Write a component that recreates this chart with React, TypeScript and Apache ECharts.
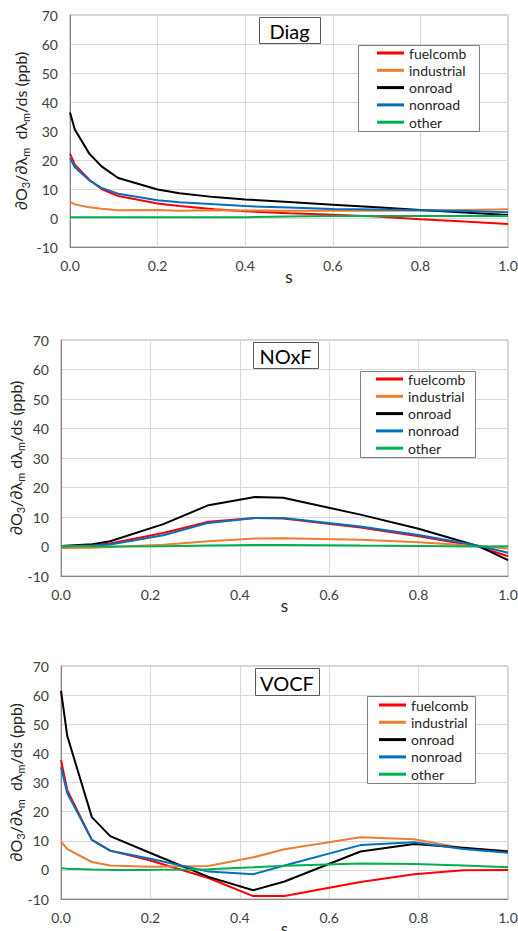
import React, { useEffect, useRef } from "react";
import * as echarts from "echarts";

// ---------- data ----------
const seriesNames = ["fuelcomb", "industrial", "onroad", "nonroad", "other"];
const seriesColors = ["#ff0000", "#ed7d31", "#000000", "#0070c0", "#00b050"];
const panelTitles = ["Diag", "NOxF", "VOCF"];

const diagS = [0, 0.011, 0.044, 0.072, 0.11, 0.2, 0.25, 0.33, 0.4, 0.5, 0.6, 0.7, 0.8, 0.9, 1.0];
const diagFuelcomb = [22.2, 18.4, 13.2, 10.0, 7.6, 5.0, 4.1, 3.0, 2.3, 1.6, 1.1, 0.5, -0.4, -1.2, -2.1];
const diagIndustrial = [5.6, 4.7, 3.7, 3.2, 2.7, 2.8, 2.5, 2.7, 2.6, 2.5, 2.5, 2.5, 2.6, 2.8, 3.0];
const diagOnroad = [36.4, 30.5, 22.2, 17.8, 13.8, 9.8, 8.5, 7.2, 6.4, 5.5, 4.6, 3.7, 2.8, 1.9, 1.0];
const diagNonroad = [20.7, 17.5, 13.0, 10.4, 8.4, 6.1, 5.4, 4.7, 4.1, 3.6, 3.1, 2.9, 2.7, 2.4, 2.0];
const diagOther = [0.3, 0.3, 0.3, 0.3, 0.3, 0.3, 0.3, 0.3, 0.3, 0.5, 0.7, 0.7, 0.7, 0.7, 0.7];

const noxS = [0, 0.07, 0.11, 0.229, 0.33, 0.434, 0.497, 0.67, 0.8, 0.934, 1.0];
const noxFuelcomb = [0, 0.3, 1.0, 4.6, 8.4, 9.7, 9.5, 6.4, 3.5, 0.0, -3.3];
const noxIndustrial = [-0.5, -0.4, -0.2, 0.6, 1.8, 2.7, 2.8, 2.3, 1.4, 0.2, -0.7];
const noxOnroad = [0.2, 0.8, 1.8, 7.6, 14.0, 16.8, 16.5, 10.8, 6.0, 0.1, -4.6];
const noxNonroad = [0, 0.3, 0.7, 3.8, 8.0, 9.7, 9.7, 6.8, 3.9, 0.3, -2.1];
const noxOther = [0.2, 0.1, 0.0, 0.1, 0.3, 0.5, 0.5, 0.3, 0.2, 0.0, 0.1];

const vocS = [0, 0.014, 0.069, 0.11, 0.2, 0.33, 0.43, 0.5, 0.67, 0.79, 0.9, 1.0];
const vocFuelcomb = [37.7, 27.4, 10.3, 6.6, 3.2, -2.8, -9.0, -9.0, -4.2, -1.5, -0.1, 0.0];
const vocIndustrial = [9.7, 7.1, 2.7, 1.5, 1.1, 1.3, 4.3, 7.1, 11.2, 10.5, 7.4, 6.5];
const vocOnroad = [61.5, 46.0, 18.1, 11.6, 5.8, -2.4, -7.0, -4.0, 6.3, 8.9, 7.6, 6.3];
const vocNonroad = [35.2, 26.3, 10.3, 6.6, 3.8, -0.6, -1.5, 1.5, 8.5, 9.5, 7.2, 5.9];
const vocOther = [0.6, 0.4, 0.1, 0.0, 0.0, 0.2, 0.9, 1.4, 2.2, 2.0, 1.5, 0.9];

const xTicks = { min: 0, max: 1, interval: 0.2 };
const yTicks = { min: -10, max: 70, interval: 10 };

const panels = [
  { s: diagS, values: [diagFuelcomb, diagIndustrial, diagOnroad, diagNonroad, diagOther] },
  { s: noxS, values: [noxFuelcomb, noxIndustrial, noxOnroad, noxNonroad, noxOther] },
  { s: vocS, values: [vocFuelcomb, vocIndustrial, vocOnroad, vocNonroad, vocOther] },
];

// ---------- layout ----------
const FONT = "Lato, 'DejaVu Sans', sans-serif";
const grids = [
  { left: 70, top: 15, width: 438, height: 232, nameGapY: 39, yName: "∂O{s|3}/∂λ{s|m}  dλ{s|m}/ds (ppb)" },
  { left: 61, top: 340, width: 447, height: 236, nameGapY: 35, yName: "∂O{s|3}/∂λ{s|m} dλ{s|m}/ds (ppb)" },
  { left: 61, top: 666, width: 447, height: 233, nameGapY: 35, yName: "∂O{s|3}/∂λ{s|m}  dλ{s|m}/ds (ppb)" },
];
const titleBoxes = [
  { x: 259, y: 17, w: 61, h: 26 },
  { x: 253, y: 342, w: 65, h: 26 },
  { x: 255, y: 668, w: 64, h: 27 },
];
const legendBoxes = [
  { x: 358, y: 45, w: 121, h: 86, iconLeft: 377, top: 44.5 },
  { x: 360, y: 371, w: 115, h: 86, iconLeft: 376, top: 370.5 },
  { x: 367, y: 696, w: 108, h: 87, iconLeft: 379, top: 696.5 },
];

export default function App() {
  const ref = useRef<HTMLDivElement>(null);
  useEffect(() => {
    if (!ref.current) return;
    const chart = echarts.init(ref.current, null, { renderer: "svg" });

    const series: any[] = [];
    panels.forEach((p, pi) => {
      seriesNames.forEach((name, si) => {
        series.push({
          type: "line",
          name,
          xAxisIndex: pi,
          yAxisIndex: pi,
          data: p.s.map((x, i) => [x, p.values[si][i]]),
          showSymbol: false,
          symbol: "none",
          lineStyle: { width: 2, color: seriesColors[si] },
          itemStyle: { color: seriesColors[si] },
          z: 2,
        });
      });
    });

    const graphic: any[] = [];
    titleBoxes.forEach((b, i) => {
      graphic.push({
        type: "rect",
        z: 3,
        shape: { x: b.x + 0.5, y: b.y + 0.5, width: b.w, height: b.h },
        style: { fill: "#fff", stroke: "#595959", lineWidth: 1 },
      });
      graphic.push({
        type: "text",
        z: 4,
        x: b.x + b.w / 2,
        y: b.y + b.h / 2 + 1,
        style: {
          text: panelTitles[i],
          fill: "#000",
          font: `20px ${FONT}`,
          align: "center",
          verticalAlign: "middle",
        },
      });
    });
    legendBoxes.forEach((b) => {
      graphic.push({
        type: "rect",
        z: 3,
        shape: { x: b.x + 0.5, y: b.y + 0.5, width: b.w, height: b.h },
        style: { fill: "#fff", stroke: "#7f7f7f", lineWidth: 1 },
      });
    });

    chart.setOption({
      animation: false,
      grid: grids.map((g) => ({
        left: g.left,
        top: g.top,
        width: g.width,
        height: g.height,
        show: true,
        borderColor: "#a6a6a6",
        borderWidth: 1,
        backgroundColor: "transparent",
        containLabel: false,
        outerBoundsMode: "none",
      })),
      xAxis: grids.map((g, i) => ({
        type: "value",
        gridIndex: i,
        min: xTicks.min,
        max: xTicks.max,
        interval: xTicks.interval,
        name: "s",
        nameLocation: "middle",
        nameGap: 21,
        nameMoveOverlap: false,
        nameTextStyle: { fontSize: 17, color: "#262626", fontFamily: FONT },
        axisLine: { show: true, onZero: false, lineStyle: { color: "#868686", width: 1 } },
        axisTick: { show: false },
        axisLabel: {
          fontSize: 14,
          color: "#404040",
          fontFamily: FONT,
          margin: 11,
          formatter: (v: number) => v.toFixed(1),
        },
        splitLine: { show: true, lineStyle: { color: "#d9d9d9", width: 1 } },
      })),
      yAxis: grids.map((g, i) => ({
        type: "value",
        gridIndex: i,
        min: yTicks.min,
        max: yTicks.max,
        interval: yTicks.interval,
        name: g.yName,
        nameLocation: "middle",
        nameGap: g.nameGapY,
        nameMoveOverlap: false,
        nameRotate: 90,
        nameTextStyle: {
          fontSize: 16,
          lineHeight: 22,
          color: "#262626",
          fontFamily: FONT,
          rich: {
            s: { fontSize: 11, lineHeight: 22, verticalAlign: "bottom", color: "#262626", fontFamily: FONT },
          },
        },
        axisLine: { show: true, onZero: false, lineStyle: { color: "#868686", width: 1 } },
        axisTick: { show: false },
        axisLabel: { fontSize: 14, color: "#404040", fontFamily: FONT, margin: 12 },
        splitLine: { show: true, lineStyle: { color: "#d9d9d9", width: 1 } },
      })),
      legend: legendBoxes.map((b) => ({
        data: seriesNames,
        orient: "vertical",
        left: b.iconLeft,
        top: b.top,
        padding: 0,
        itemGap: 0.3,
        itemWidth: 27,
        itemHeight: 3,
        icon: "rect",
        selectedMode: false,
        z: 5,
        textStyle: { fontSize: 14, lineHeight: 17, color: "#262626", fontFamily: FONT },
      })),
      graphic,
      series,
    });
    return () => chart.dispose();
  }, []);

  return (
    <div
      ref={ref}
      style={{ position: "fixed", left: 0, top: 0, width: 518, height: 931, background: "#fff" }}
    />
  );
}
